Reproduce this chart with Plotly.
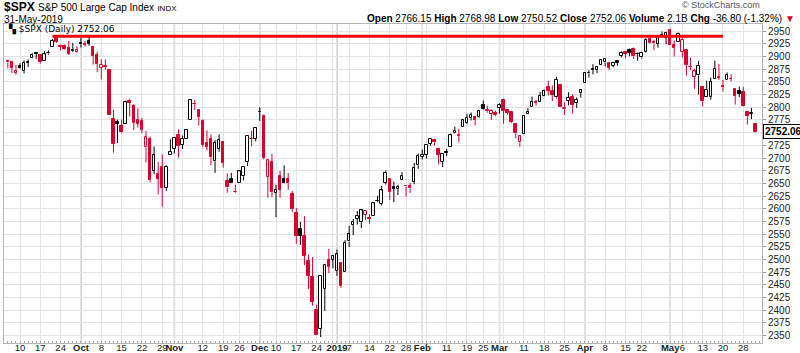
import plotly.graph_objects as go
import pandas as pd

# ---------------- data ----------------
holidays = ["2018-11-22", "2018-12-05", "2018-12-25", "2019-01-01", "2019-01-21",
            "2019-02-18", "2019-04-19", "2019-05-27"]
dates = pd.bdate_range("2018-09-05", "2019-05-31", freq="C", holidays=holidays)

prev_close_start = 2896.72

opens = [
    2891.59, 2888.64, 2868.26, 2881.39, 2871.57, 2888.29, 2896.85, 2906.38, 2903.83, 2890.74, 2906.60, 2919.73, 2936.76, 2921.83, 2921.75, 2916.98, 2911.65, 2910.03,
    2926.29, 2923.80, 2931.69, 2919.35, 2902.54, 2877.53, 2882.51, 2873.90, 2776.87, 2770.54, 2763.83, 2767.05, 2811.67, 2802.00, 2775.66, 2773.94, 2721.03, 2737.87, 2674.88, 2667.86, 2682.65, 2640.68, 2705.60,
    2717.58, 2745.45, 2726.37, 2738.40, 2774.13, 2806.38, 2794.10, 2773.93, 2730.05, 2737.90, 2693.52, 2718.54, 2730.74, 2654.60, 2657.74, 2633.36, 2649.97, 2663.75, 2691.45, 2736.97, 2737.76,
    2790.50, 2782.43, 2663.51, 2691.26, 2630.86, 2664.44, 2658.23, 2658.70, 2629.68, 2590.75, 2559.90, 2547.05, 2496.77, 2465.38, 2400.56, 2363.12, 2442.50, 2498.77, 2498.94,
    2476.96, 2491.92, 2474.33, 2535.61, 2568.11, 2580.00, 2573.51, 2588.11, 2580.31, 2585.10, 2614.75, 2609.28, 2651.27, 2657.88, 2643.48, 2638.84, 2657.44, 2644.97, 2644.89, 2653.62, 2685.49,
    2702.32, 2706.49, 2728.34, 2735.05, 2717.53, 2692.36, 2712.40, 2722.61, 2750.30, 2743.50, 2760.24, 2769.28, 2779.05, 2780.24, 2780.67, 2804.35, 2792.36, 2787.50, 2788.11,
    2798.22, 2814.37, 2794.41, 2790.27, 2766.53, 2730.79, 2747.61, 2787.34, 2799.78, 2810.38, 2810.79, 2822.61, 2840.76, 2831.34, 2819.72, 2844.52, 2796.01, 2812.66, 2819.72, 2809.40, 2828.27,
    2848.63, 2868.24, 2876.09, 2873.99, 2884.16, 2888.46, 2886.58, 2881.37, 2891.92, 2900.86, 2908.32, 2912.26, 2916.04, 2904.81, 2898.78, 2909.99, 2934.00, 2928.99, 2925.81, 2940.58, 2937.14,
    2952.33, 2922.16, 2929.21, 2908.89, 2913.03, 2879.61, 2859.84, 2863.10, 2840.19, 2820.12, 2820.38, 2855.80, 2858.60, 2841.94, 2854.02, 2856.06, 2836.70, 2832.41, 2830.03, 2790.25, 2786.94, 2766.15,
]
highs = [
    2894.21, 2892.05, 2883.81, 2886.93, 2892.52, 2894.65, 2906.76, 2908.30, 2904.65, 2911.17, 2912.36, 2934.80, 2940.91, 2923.79, 2923.95, 2931.15, 2927.22, 2920.53,
    2937.06, 2931.42, 2939.86, 2919.78, 2909.64, 2894.83, 2894.83, 2874.02, 2795.14, 2775.77, 2775.99, 2813.46, 2816.94, 2806.04, 2797.77, 2778.94, 2753.59, 2742.59, 2722.70, 2692.38, 2706.85, 2685.43, 2736.69,
    2741.67, 2756.55, 2744.27, 2756.82, 2815.15, 2814.75, 2794.10, 2775.99, 2754.60, 2746.80, 2735.38, 2746.75, 2733.16, 2669.44, 2670.73, 2647.55, 2674.35, 2682.53, 2744.00, 2753.75, 2760.88,
    2800.18, 2785.93, 2696.15, 2708.54, 2647.51, 2674.35, 2685.44, 2670.19, 2635.07, 2601.13, 2573.99, 2585.29, 2509.63, 2504.41, 2410.34, 2467.76, 2489.10, 2520.27, 2509.24,
    2519.49, 2493.14, 2538.07, 2566.16, 2579.82, 2595.32, 2597.82, 2596.27, 2589.32, 2613.08, 2625.76, 2645.06, 2675.47, 2657.88, 2653.19, 2647.20, 2672.38, 2644.97, 2650.93, 2690.44, 2708.95,
    2716.66, 2724.99, 2738.98, 2738.08, 2719.32, 2708.07, 2718.05, 2748.19, 2761.85, 2757.90, 2775.66, 2787.33, 2789.88, 2781.58, 2794.20, 2813.49, 2803.12, 2795.76, 2793.73,
    2808.02, 2816.88, 2796.44, 2790.27, 2767.25, 2744.13, 2784.00, 2798.32, 2821.24, 2815.00, 2830.73, 2835.41, 2852.42, 2843.54, 2860.31, 2846.16, 2809.79, 2829.87, 2825.56, 2819.71, 2836.03,
    2869.40, 2872.90, 2885.25, 2881.28, 2893.24, 2895.95, 2886.88, 2889.71, 2893.42, 2910.54, 2909.60, 2916.06, 2918.00, 2908.40, 2909.51, 2936.31, 2936.83, 2933.10, 2939.88, 2949.52, 2948.22,
    2954.13, 2931.68, 2947.85, 2937.32, 2913.03, 2897.96, 2875.97, 2891.31, 2840.19, 2852.54, 2858.68, 2892.15, 2885.48, 2853.86, 2868.88, 2865.47, 2836.70, 2841.36, 2840.51, 2792.03, 2799.00, 2768.98,
]
lows = [
    2876.92, 2867.29, 2864.12, 2875.94, 2866.78, 2879.20, 2896.39, 2895.77, 2886.16, 2890.43, 2903.82, 2919.73, 2927.11, 2912.63, 2913.70, 2903.28, 2909.27, 2907.50,
    2917.91, 2919.37, 2921.36, 2883.92, 2869.29, 2855.04, 2874.27, 2784.86, 2710.51, 2729.44, 2749.03, 2766.91, 2781.81, 2755.18, 2760.27, 2749.22, 2691.43, 2651.89, 2667.84, 2628.16, 2603.54, 2635.34, 2705.60,
    2708.85, 2700.44, 2717.94, 2737.08, 2774.13, 2794.99, 2764.24, 2722.00, 2714.98, 2685.75, 2670.75, 2712.16, 2681.09, 2631.52, 2649.82, 2631.09, 2649.97, 2655.89, 2684.38, 2722.94, 2732.76,
    2773.38, 2697.18, 2621.53, 2623.14, 2583.23, 2621.30, 2650.26, 2637.27, 2593.84, 2530.54, 2528.71, 2488.96, 2441.18, 2408.55, 2351.10, 2346.58, 2397.94, 2472.89, 2482.82,
    2467.47, 2443.96, 2474.33, 2524.56, 2547.56, 2568.89, 2562.02, 2577.40, 2570.41, 2585.10, 2612.68, 2606.36, 2647.58, 2617.27, 2612.86, 2627.01, 2657.33, 2624.06, 2631.05, 2648.34, 2678.65,
    2696.88, 2698.75, 2724.03, 2724.15, 2687.26, 2681.83, 2703.79, 2722.61, 2748.63, 2731.23, 2760.24, 2767.29, 2774.06, 2764.55, 2779.11, 2794.99, 2789.47, 2775.13, 2782.51,
    2787.38, 2767.66, 2785.51, 2768.69, 2739.09, 2722.27, 2747.61, 2786.73, 2799.78, 2803.46, 2810.79, 2821.99, 2823.27, 2812.43, 2817.38, 2800.47, 2785.02, 2803.99, 2787.72, 2798.77, 2819.23,
    2848.63, 2858.75, 2865.17, 2867.14, 2882.99, 2880.78, 2873.33, 2879.13, 2881.99, 2898.37, 2896.48, 2900.71, 2895.45, 2891.90, 2896.35, 2908.53, 2926.05, 2912.84, 2917.56, 2939.35, 2924.11,
    2923.36, 2900.50, 2929.21, 2898.21, 2862.60, 2873.28, 2836.40, 2825.39, 2801.43, 2820.12, 2815.08, 2855.80, 2854.23, 2831.29, 2854.02, 2851.11, 2805.49, 2820.19, 2801.58, 2766.06, 2776.74, 2750.52,
]
closes = [
    2888.60, 2878.05, 2871.68, 2877.13, 2887.89, 2888.92, 2904.18, 2904.98, 2888.80, 2904.31, 2907.95, 2930.75, 2929.67, 2919.37, 2915.56, 2905.97, 2914.00, 2913.98,
    2924.59, 2923.43, 2925.51, 2901.61, 2885.57, 2884.43, 2880.34, 2785.68, 2728.37, 2767.13, 2750.79, 2809.92, 2809.21, 2768.78, 2767.78, 2755.88, 2740.69, 2656.10, 2705.57, 2658.69, 2641.25, 2682.63, 2711.74,
    2740.37, 2723.06, 2738.31, 2755.45, 2813.89, 2806.83, 2781.01, 2726.22, 2722.18, 2701.58, 2730.20, 2736.27, 2690.73, 2641.89, 2649.93, 2632.56, 2673.45, 2682.17, 2743.79, 2737.80, 2760.17,
    2790.37, 2700.06, 2695.95, 2633.08, 2637.72, 2636.78, 2651.07, 2650.54, 2599.95, 2545.94, 2546.16, 2506.96, 2467.42, 2416.62, 2351.10, 2467.70, 2488.83, 2485.74, 2506.85,
    2510.03, 2447.89, 2531.94, 2549.69, 2574.41, 2584.96, 2596.64, 2596.26, 2582.61, 2610.30, 2616.10, 2635.96, 2670.71, 2632.90, 2638.70, 2642.33, 2664.76, 2643.85, 2640.00, 2681.05, 2704.10,
    2706.53, 2724.87, 2737.70, 2731.61, 2706.05, 2707.88, 2709.80, 2744.73, 2753.03, 2745.73, 2775.60, 2779.76, 2784.70, 2774.88, 2792.67, 2796.11, 2793.90, 2792.38, 2784.49,
    2803.69, 2792.81, 2789.65, 2771.45, 2748.93, 2743.07, 2783.30, 2791.52, 2810.92, 2808.48, 2822.48, 2832.94, 2832.57, 2824.23, 2854.88, 2800.71, 2798.36, 2818.46, 2805.37, 2815.44, 2834.40,
    2867.19, 2867.24, 2873.40, 2879.39, 2892.74, 2895.77, 2878.20, 2888.21, 2888.32, 2907.41, 2905.58, 2907.06, 2900.45, 2905.03, 2907.97, 2933.68, 2927.25, 2926.17, 2939.88, 2943.03, 2945.83,
    2923.73, 2917.52, 2945.64, 2932.47, 2884.05, 2879.42, 2870.72, 2881.40, 2811.87, 2834.41, 2850.96, 2876.32, 2859.53, 2840.23, 2864.36, 2856.27, 2822.24, 2826.06, 2802.39, 2783.02, 2788.86, 2752.06,
]

tick_dates = ["2018-09-10", "2018-09-17", "2018-09-24", "2018-10-01", "2018-10-08", "2018-10-15",
              "2018-10-22", "2018-10-29", "2018-11-01", "2018-11-12", "2018-11-19", "2018-11-26",
              "2018-12-03", "2018-12-10", "2018-12-17", "2018-12-24", "2019-01-02", "2019-01-07",
              "2019-01-14", "2019-01-22", "2019-01-28", "2019-02-01", "2019-02-11", "2019-02-19",
              "2019-02-25", "2019-03-01", "2019-03-11", "2019-03-18", "2019-03-25", "2019-04-01",
              "2019-04-08", "2019-04-15", "2019-04-22", "2019-05-01", "2019-05-06", "2019-05-13",
              "2019-05-20", "2019-05-28"]
tick_labels = ["10", "17", "24", "<b>Oct</b>", "8", "15", "22", "29", "<b>Nov</b>", "12", "19", "26",
               "<b>Dec</b>", "10", "17", "24", "<b>2019</b>", "7", "14", "22", "28", "<b>Feb</b>",
               "11", "19", "25", "<b>Mar</b>", "11", "18", "25", "<b>Apr</b>", "8", "15", "22",
               "<b>May</b>", "6", "13", "20", "28"]
extra_grid_dates = ["2018-11-05", "2018-12-31", "2019-02-04", "2019-03-04"]
month_start_dates = ["2018-10-01", "2018-11-01", "2018-12-03", "2019-01-02", "2019-02-01",
                     "2019-03-01", "2019-04-01", "2019-05-01"]

price_ticks = [2350, 2375, 2400, 2425, 2450, 2475, 2500, 2525, 2550, 2575, 2600, 2625, 2650,
               2675, 2700, 2725, 2750, 2775, 2800, 2825, 2850, 2875, 2900, 2925, 2950]

resistance_level = 2940
resistance_from = "2018-09-20"
resistance_to = "2019-05-20"

# ---------------- build ----------------
n = len(dates)
assert n == len(opens) == len(highs) == len(lows) == len(closes)
date_idx = {d.strftime("%Y-%m-%d"): i for i, d in enumerate(dates)}

RED = "#d8002c"
BLACK = "#000000"

groups = {}
wicks = {BLACK: ([], []), RED: ([], [])}
prev = prev_close_start
for i in range(n):
    o, h, l, c = opens[i], highs[i], lows[i], closes[i]
    col = BLACK if c >= prev else RED
    hollow = c > o
    top, bot = max(o, c), min(o, c)
    g = groups.setdefault((col, hollow), {"x": [], "base": [], "y": []})
    g["x"].append(i)
    g["base"].append(bot)
    g["y"].append(max(top - bot, 0.8))
    wx, wy = wicks[col]
    wx += [i, i, None, i, i, None]
    wy += [top, h, None, l, bot, None]
    prev = c

fig = go.Figure()
for col in (BLACK, RED):
    wx, wy = wicks[col]
    fig.add_trace(go.Scatter(x=wx, y=wy, mode="lines", line=dict(color=col, width=1),
                             hoverinfo="skip", showlegend=False))
for (col, hollow), g in groups.items():
    fig.add_trace(go.Bar(x=g["x"], base=g["base"], y=g["y"], width=0.62,
                         marker=dict(color="white" if hollow else col,
                                     line=dict(color=col, width=1)),
                         hoverinfo="skip", showlegend=False))

fig.add_trace(go.Scatter(x=[date_idx[resistance_from], date_idx[resistance_to]],
                         y=[resistance_level, resistance_level], mode="lines",
                         line=dict(color="#ff0000", width=3), hoverinfo="skip", showlegend=False))

grid_vals = [date_idx[d] for d in tick_dates] + [date_idx[d] for d in extra_grid_dates]
grid_text = tick_labels + [""] * len(extra_grid_dates)

last_close = closes[-1]
# the last-price box covers the nearest price label
price_text = ["" if abs(p - last_close) < 8 else str(p) for p in price_ticks]

shapes = []
for d in month_start_dates:
    xi = date_idx[d]
    shapes.append(dict(type="line", xref="x", yref="paper", x0=xi, x1=xi, y0=0, y1=1,
                       line=dict(color="#c6c6c6", width=1.5), layer="below"))

W, H = 800, 353
ML, MR, MT, MB = 4, 38, 24, 10
PW, PH = W - ML - MR, H - MT - MB


def px(x):
    return (x - ML) / PW


def py(y):
    return (H - MB - y) / PH


FONT = "Liberation Sans, Arial, sans-serif"
annotations = [
    dict(xref="paper", yref="paper", x=px(2), y=py(7), xanchor="left", yanchor="middle",
         showarrow=False,
         text="<b>$SPX</b> <span style='font-size:10px'>S&P 500 Large Cap Index</span> "
              "<span style='font-size:8px'>INDX</span>",
         font=dict(family=FONT, size=12, color="#000")),
    dict(xref="paper", yref="paper", x=px(2), y=py(19), xanchor="left", yanchor="middle",
         showarrow=False, text="31-May-2019", font=dict(family=FONT, size=10, color="#000")),
    dict(xref="paper", yref="paper", x=px(797), y=py(18.5), xanchor="right", yanchor="middle",
         showarrow=False,
         text="<b>Open</b> 2766.15 <b>High</b> 2768.98 <b>Low</b> 2750.52 <b>Close</b> 2752.06 "
              "<b>Volume</b> 2.1B <b>Chg</b> -36.80 (-1.32%) <span style='color:#d8002c'>▼</span>",
         font=dict(family=FONT, size=10, color="#000")),
    dict(xref="paper", yref="paper", x=px(762), y=py(5.5), xanchor="right", yanchor="middle",
         showarrow=False, text="© StockCharts.com", font=dict(family=FONT, size=9, color="#555")),
    dict(xref="paper", yref="paper", x=px(6), y=py(29), xanchor="left", yanchor="middle",
         showarrow=False, text="<b>▚</b> $SPX (Daily) 2752.06",
         font=dict(family="DejaVu Sans, sans-serif", size=9, color="#000")),
    dict(xref="paper", yref="y", x=1.0, y=last_close, xanchor="left", yanchor="middle",
         xshift=1, showarrow=False, text="<b>%.2f</b>" % last_close,
         font=dict(family=FONT, size=10, color="#000"), bgcolor="white",
         bordercolor="#000", borderwidth=1, borderpad=1),
]

fig.update_layout(
    width=W, height=H, margin=dict(l=ML, r=MR, t=MT, b=MB, pad=0, autoexpand=False),
    paper_bgcolor="white", plot_bgcolor="white", showlegend=False,
    barmode="overlay", bargap=0, shapes=shapes, annotations=annotations,
    xaxis=dict(range=[-0.94, 185.6], tickmode="array", tickvals=grid_vals, ticktext=grid_text,
               tickangle=0, ticks="", showgrid=True, gridcolor="#e3e3e3", gridwidth=1,
               zeroline=False, showline=True, linecolor="#b4b4b4", linewidth=1, mirror=True,
               automargin=False, ticklabelstandoff=-4,
               tickfont=dict(family=FONT, size=9.5, color="#222"),
               minor=dict(tickmode="linear", tick0=0, dtick=1, ticks="inside", ticklen=2,
                          tickcolor="#aaa", showgrid=False)),
    yaxis=dict(range=[2335, 2964.4], side="right", tickmode="array", tickvals=price_ticks,
               ticktext=price_text, automargin=False,
               showgrid=True, gridcolor="#e3e3e3", gridwidth=1, zeroline=False,
               showline=True, linecolor="#b4b4b4", linewidth=1, mirror=True,
               ticks="outside", ticklen=3, tickcolor="#999",
               tickfont=dict(family=FONT, size=10, color="#222")),
)

fig.write_html("out.html")
